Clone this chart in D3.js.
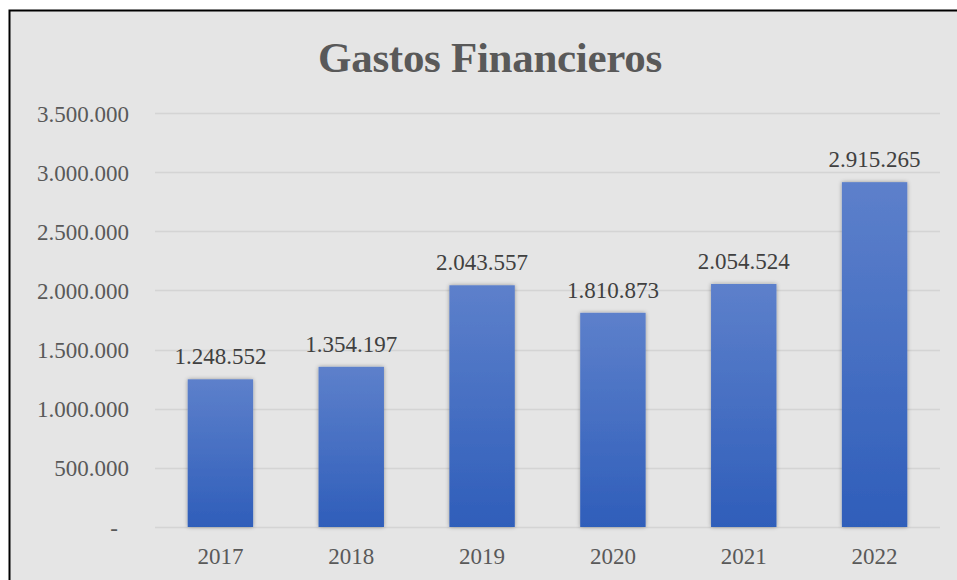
<!DOCTYPE html>
<html>
<head>
<meta charset="utf-8">
<script src="https://cdn.jsdelivr.net/npm/d3@7"></script>
<style>
  html, body { margin: 0; padding: 0; background: #ffffff; }
  svg { display: block; }
</style>
</head>
<body>
<svg id="chart" width="957" height="580"></svg>
<script>
// Annual financial expenses
const years = ["2017", "2018", "2019", "2020", "2021", "2022"];
const gastos = [1248552, 1354197, 2043557, 1810873, 2054524, 2915265];
const yTicks = [0, 500000, 1000000, 1500000, 2000000, 2500000, 3000000, 3500000];
const titleText = "Gastos Financieros";

const svg = d3.select("#chart");
const W = 957, H = 580;

// Frame
svg.append("rect")
  .attr("x", 9.5).attr("y", 10.5)
  .attr("width", W + 20).attr("height", H + 20)
  .attr("fill", "#e5e5e5")
  .attr("stroke", "#000").attr("stroke-width", 2);

const defs = svg.append("defs");
const grad = defs.append("linearGradient")
  .attr("id", "barGrad").attr("x1", 0).attr("y1", 0).attr("x2", 0).attr("y2", 1);
grad.append("stop").attr("offset", "0%").attr("stop-color", "#5d80cb");
grad.append("stop").attr("offset", "100%").attr("stop-color", "#2f5eba");

const shadow = defs.append("filter").attr("id", "shadow")
  .attr("x", "-20%").attr("y", "-5%").attr("width", "140%").attr("height", "110%");
shadow.append("feGaussianBlur").attr("in", "SourceAlpha").attr("stdDeviation", 2).attr("result", "b");
shadow.append("feComponentTransfer").attr("in", "b").attr("result", "s")
  .append("feFuncA").attr("type", "linear").attr("slope", 0.35);
const merge = shadow.append("feMerge");
merge.append("feMergeNode").attr("in", "s");
merge.append("feMergeNode").attr("in", "SourceGraphic");

const plot = { left: 155, right: 940, top: 113, bottom: 527 };

const x = d3.scaleBand().domain(years).range([plot.left, plot.right]).paddingInner(0.5).paddingOuter(0.25);
const y = d3.scaleLinear().domain([0, 3500000]).range([plot.bottom, plot.top]);

const fmt = v => v === 0 ? "-" : d3.format(",")(v).replace(/,/g, ".");
const serif = "'Liberation Serif', 'Times New Roman', serif";

// Title
svg.append("text")
  .attr("x", 490).attr("y", 72)
  .attr("text-anchor", "middle")
  .attr("font-family", serif).attr("font-weight", "bold")
  .attr("font-size", 43).attr("fill", "#595959")
  .attr("letter-spacing", -0.3)
  .text(titleText);

// Gridlines
svg.append("g").selectAll("line").data(yTicks).join("line")
  .attr("x1", plot.left).attr("x2", plot.right)
  .attr("y1", d => Math.round(y(d)) + 0.5).attr("y2", d => Math.round(y(d)) + 0.5)
  .attr("stroke", "#d4d4d4").attr("stroke-width", 1.5);

// Y axis (accounting style: zero shown as a dash set back from the right edge)
const yAxis = svg.append("g")
  .attr("transform", `translate(${plot.left - 26},0)`)
  .call(d3.axisLeft(y).tickValues(yTicks).tickFormat(fmt).tickSize(0).tickPadding(0));
yAxis.select(".domain").remove();
yAxis.selectAll("text")
  .attr("font-family", serif).attr("font-size", 23).attr("fill", "#595959")
  .attr("dy", "0.35em")
  .attr("dx", d => d === 0 ? -11 : 0);

// X axis
const xAxis = svg.append("g")
  .attr("transform", `translate(0,${plot.bottom})`)
  .call(d3.axisBottom(x).tickSize(0).tickPadding(21));
xAxis.select(".domain").remove();
xAxis.selectAll("text")
  .attr("font-family", serif).attr("font-size", 23).attr("fill", "#595959");

// Bars
svg.append("g").selectAll("rect").data(years).join("rect")
  .attr("x", d => x(d))
  .attr("y", (d, i) => y(gastos[i]))
  .attr("width", x.bandwidth())
  .attr("height", (d, i) => y(0) - y(gastos[i]))
  .attr("fill", "url(#barGrad)")
  .attr("filter", "url(#shadow)");

// Value labels
svg.append("g").selectAll("text").data(years).join("text")
  .attr("x", d => x(d) + x.bandwidth() / 2)
  .attr("y", (d, i) => y(gastos[i]) - 15)
  .attr("text-anchor", "middle")
  .attr("font-family", serif).attr("font-size", 23).attr("fill", "#404040")
  .text((d, i) => fmt(gastos[i]));
</script>
</body>
</html>
